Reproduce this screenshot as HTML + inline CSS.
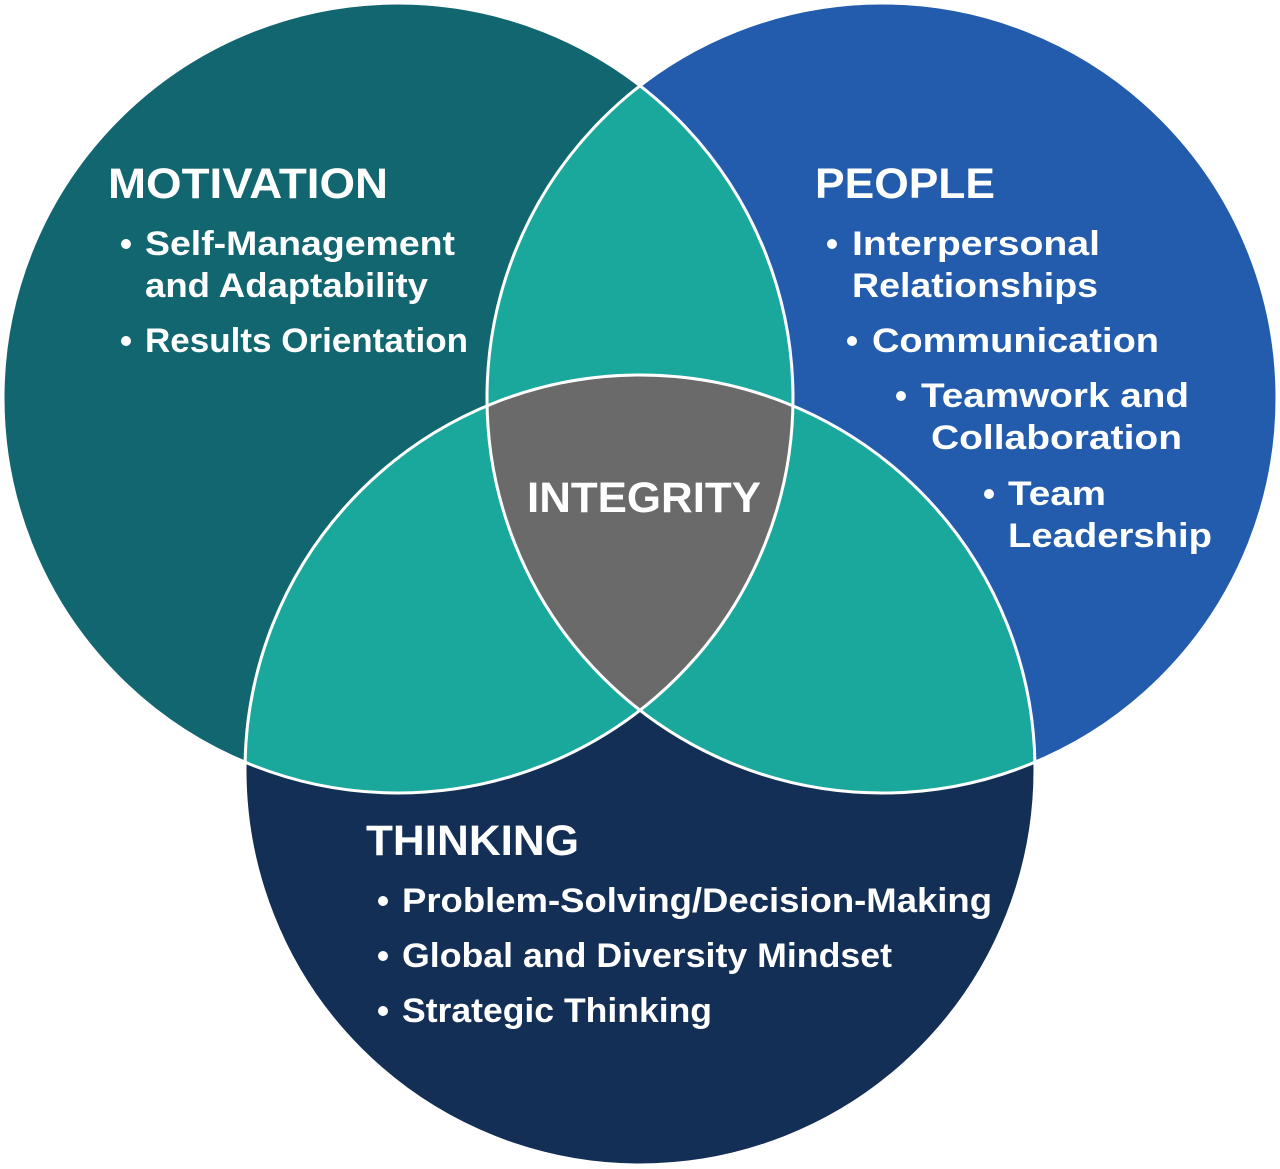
<!DOCTYPE html>
<html><head><meta charset="utf-8"><style>
html,body{margin:0;padding:0;background:#fff;}
svg{display:block;}
text{font-family:"Liberation Sans",sans-serif;font-weight:bold;fill:#fff;}
</style></head><body>
<svg width="1280" height="1169" viewBox="0 0 1280 1169" xmlns="http://www.w3.org/2000/svg">
<defs>
<clipPath id="cL"><circle cx="398" cy="398" r="395"/></clipPath>
<clipPath id="cR"><circle cx="882" cy="398" r="395"/></clipPath>
<clipPath id="cB"><circle cx="640" cy="770" r="395"/></clipPath>
</defs>
<circle cx="398" cy="398" r="395" fill="#126670"/>
<circle cx="882" cy="398" r="395" fill="#235cad"/>
<circle cx="640" cy="770" r="395" fill="#142f56"/>
<g clip-path="url(#cL)"><circle cx="882" cy="398" r="395" fill="#1ba89c"/><circle cx="640" cy="770" r="395" fill="#1ba89c"/></g>
<g clip-path="url(#cR)"><circle cx="640" cy="770" r="395" fill="#1ba89c"/></g>
<g clip-path="url(#cL)"><g clip-path="url(#cR)"><circle cx="640" cy="770" r="395" fill="#6a6a6a"/></g></g>
<g fill="none" stroke="#fff" stroke-width="3">
<circle cx="398" cy="398" r="395"/><circle cx="882" cy="398" r="395"/><circle cx="640" cy="770" r="395"/>
</g>
<g font-size="43">
<text x="108" y="198" textLength="280" lengthAdjust="spacingAndGlyphs">MOTIVATION</text>
<text x="815" y="198" textLength="180" lengthAdjust="spacingAndGlyphs">PEOPLE</text>
<text x="527" y="512" textLength="234" lengthAdjust="spacingAndGlyphs">INTEGRITY</text>
<text x="366" y="855" textLength="213" lengthAdjust="spacingAndGlyphs">THINKING</text>
</g>
<g font-size="34">
<circle cx="126" cy="244" r="5" fill="#fff"/>
<text x="145" y="255" textLength="310" lengthAdjust="spacingAndGlyphs">Self-Management</text>
<text x="145" y="297" textLength="283" lengthAdjust="spacingAndGlyphs">and Adaptability</text>
<circle cx="126" cy="341" r="5" fill="#fff"/>
<text x="145" y="352" textLength="323" lengthAdjust="spacingAndGlyphs">Results Orientation</text>

<circle cx="832" cy="244" r="5" fill="#fff"/>
<text x="852" y="255" textLength="248" lengthAdjust="spacingAndGlyphs">Interpersonal</text>
<text x="852" y="297" textLength="246" lengthAdjust="spacingAndGlyphs">Relationships</text>
<circle cx="852" cy="341" r="5" fill="#fff"/>
<text x="872" y="352" textLength="287" lengthAdjust="spacingAndGlyphs">Communication</text>
<circle cx="901" cy="396" r="5" fill="#fff"/>
<text x="921" y="407" textLength="268" lengthAdjust="spacingAndGlyphs">Teamwork and</text>
<text x="931" y="449" textLength="251" lengthAdjust="spacingAndGlyphs">Collaboration</text>
<circle cx="989" cy="494" r="5" fill="#fff"/>
<text x="1008" y="505" textLength="98" lengthAdjust="spacingAndGlyphs">Team</text>
<text x="1008" y="547" textLength="204" lengthAdjust="spacingAndGlyphs">Leadership</text>

<circle cx="383" cy="901" r="5" fill="#fff"/>
<text x="402" y="912" textLength="590" lengthAdjust="spacingAndGlyphs">Problem-Solving/Decision-Making</text>
<circle cx="383" cy="956" r="5" fill="#fff"/>
<text x="402" y="967" textLength="490" lengthAdjust="spacingAndGlyphs">Global and Diversity Mindset</text>
<circle cx="383" cy="1011" r="5" fill="#fff"/>
<text x="402" y="1022" textLength="310" lengthAdjust="spacingAndGlyphs">Strategic Thinking</text>
</g>
</svg>
</body></html>
